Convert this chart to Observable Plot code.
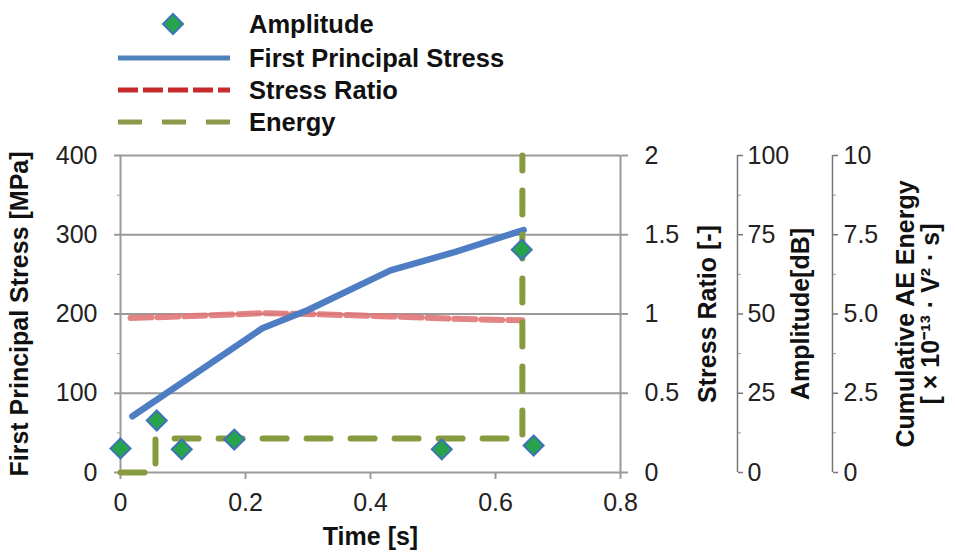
<!DOCTYPE html>
<html><head><meta charset="utf-8">
<script src="https://cdn.jsdelivr.net/npm/d3@7"></script>
<script src="https://cdn.jsdelivr.net/npm/@observablehq/plot@0.6"></script>
<style>
body{margin:0;background:#fff;font-family:"Liberation Sans",Arial,sans-serif;}
#chart{width:955px;height:552px;position:relative;overflow:hidden;}
#chart svg{display:block;}
</style></head><body><div id="chart"></div>
<script>
// ---- data ----
const stressTime  = [0.019, 0.227, 0.300, 0.432, 0.530, 0.645];
const stressValue = [71, 182, 205, 255, 277, 306];           // MPa

const ratioTime  = [0.016, 0.100, 0.227, 0.300, 0.432, 0.530, 0.643];
const ratioValue = [0.975, 0.985, 1.005, 1.0, 0.985, 0.970, 0.960];

const energyTime  = [0, 0.056, 0.643];
const energyValue = [0, 1.07, 10];                             // x10^-13 V^2 s

const ampTime  = [0, 0.058, 0.098, 0.182, 0.514, 0.642, 0.661];
const ampValue = [7.6, 16.4, 7.3, 10.4, 7.3, 70.3, 8.5];      // dB

const stressTicks = [0, 100, 200, 300, 400];
const ratioTicks  = [0, 0.5, 1, 1.5, 2];
const ratioLabels = ["0", "0.5", "1", "1.5", "2"];
const ampTicks    = [0, 25, 50, 75, 100];
const ampLabels   = ["0", "25", "50", "75", "100"];
const energyTicks = [0, 2.5, 5, 7.5, 10];
const energyLabels = ["0", "2.5", "5.0", "7.5", "10"];
const timeTicks   = [0, 0.2, 0.4, 0.6, 0.8];
const timeLabels  = ["0", "0.2", "0.4", "0.6", "0.8"];

const legendNames = ["Amplitude", "First Principal Stress", "Stress Ratio", "Energy"];

// colours
const cBlue = "#4f7dc3", cRed = "#e07676", cGreen = "#869a3e", cDiaFill = "#27a34c", cDiaStroke = "#3f72b8";
const cLegRed = "#c62a2a", cLegGreen = "#8a9a4a", cLegBlue = "#4f81bd";

// secondary scales mapped onto the primary (stress) scale
const kRatio = 400 / 2, kAmp = 400 / 100, kEnergy = 400 / 10;

const stress = stressTime.map((t, i) => ({t, v: stressValue[i]}));
const ratio  = ratioTime.map((t, i) => ({t, v: ratioValue[i]}));
const energy = energyTime.map((t, i) => ({t, v: energyValue[i]}));
const amp    = ampTime.map((t, i) => ({t, v: ampValue[i]}));

const font = "Liberation Sans, Arial, sans-serif";
const chart = document.getElementById("chart");

// ---- legend (above the plot) ----
const leg = d3.select(chart).append("svg").attr("width", 955).attr("height", 140)
  .style("font-family", font);
const rowsY = [24, 58, 90, 122];
const lx0 = 118, lx1 = 230, tx = 249;
leg.append("path").attr("d", `M173,${rowsY[0]-10}L183,${rowsY[0]}L173,${rowsY[0]+10}L163,${rowsY[0]}Z`)
  .attr("fill", cDiaFill).attr("stroke", cDiaStroke).attr("stroke-width", 2);
leg.append("line").attr("x1", lx0).attr("x2", lx1).attr("y1", rowsY[1]).attr("y2", rowsY[1])
  .attr("stroke", cLegBlue).attr("stroke-width", 5);
leg.append("line").attr("x1", lx0).attr("x2", lx1).attr("y1", rowsY[2]).attr("y2", rowsY[2])
  .attr("stroke", cLegRed).attr("stroke-width", 5).attr("stroke-dasharray", "20,5");
leg.append("line").attr("x1", lx0).attr("x2", lx1).attr("y1", rowsY[3]).attr("y2", rowsY[3])
  .attr("stroke", cLegGreen).attr("stroke-width", 5).attr("stroke-dasharray", "24,20");
legendNames.forEach((n, i) => {
  leg.append("text").attr("x", tx).attr("y", rowsY[i] + 8.5).text(n)
    .attr("font-size", 25.5).attr("font-weight", "bold").attr("fill", "#111");
});

// ---- plot ----
const lookup = (vals, labels, k) => d => labels[vals.findIndex(v => Math.abs(v * k - d) < 1e-6)];
const gray = "#9a9a9a";
const tickFont = {fontSize: 25, fill: "#222"};
const titleFont = {fontSize: 25, fontWeight: "bold", fill: "#111", labelArrow: "none", labelAnchor: "center"};

const plot = Plot.plot({
  width: 955, height: 412,
  marginTop: 15, marginBottom: 80, marginLeft: 120, marginRight: 335,
  style: {fontFamily: font, background: "transparent", overflow: "visible"},
  x: {domain: [0, 0.8]},
  y: {domain: [0, 400]},
  marks: [
    // grid and frame
    Plot.gridY(stressTicks.slice(1), {stroke: gray, strokeOpacity: 1, strokeWidth: 2}),
    Plot.ruleX([0, 0.8], {stroke: gray, strokeWidth: 2}),
    Plot.ruleY([0], {stroke: gray, strokeWidth: 2}),

    // left axis
    Plot.axisY({ticks: stressTicks, tickSize: 6, tickPadding: 17, stroke: gray, strokeWidth: 2, label: null, ...tickFont}),
    Plot.axisY({ticks: [50, 150, 250, 350], tickSize: 3, tickFormat: () => "", stroke: gray, label: null}),
    Plot.axisY({ticks: [], label: "First Principal Stress [MPa]", labelOffset: 110, ...titleFont}),

    // x axis
    Plot.axisX({ticks: timeTicks, tickSize: 7, tickPadding: 14, stroke: gray, strokeWidth: 2,
      tickFormat: lookup(timeTicks, timeLabels, 1), label: null, ...tickFont}),
    Plot.axisX({ticks: [], label: "Time [s]", labelOffset: 72, ...titleFont}),

    // stress ratio axis (right frame edge)
    Plot.axisY({anchor: "right", ticks: ratioTicks.map(v => v * kRatio), tickSize: 7, tickPadding: 17,
      stroke: gray, strokeWidth: 2, tickFormat: lookup(ratioTicks, ratioLabels, kRatio), label: null, ...tickFont}),
    Plot.axisY({anchor: "right", ticks: [], label: "Stress Ratio [-]", labelOffset: 95, ...titleFont}),

    // amplitude axis (offset)
    Plot.ruleX([0.8], {y1: 0, y2: 400, dx: 117, stroke: "#777", strokeWidth: 1.5}),
    Plot.axisY({anchor: "right", dx: 117, ticks: ampTicks.map(v => v * kAmp), tickSize: 5, tickPadding: 5,
      stroke: "#777", strokeWidth: 1.5, tickFormat: lookup(ampTicks, ampLabels, kAmp), label: null, ...tickFont}),
    Plot.axisY({anchor: "right", dx: 117, ticks: [12.5, 37.5, 62.5, 87.5].map(v => v * kAmp), tickSize: 3,
      tickFormat: () => "", stroke: "#999", label: null}),
    Plot.axisY({anchor: "right", ticks: [], label: "Amplitude[dB]", labelOffset: 188, ...titleFont}),

    // energy axis (offset)
    Plot.ruleX([0.8], {y1: 0, y2: 400, dx: 212, stroke: "#777", strokeWidth: 1.5}),
    Plot.axisY({anchor: "right", dx: 212, ticks: energyTicks.map(v => v * kEnergy), tickSize: 5, tickPadding: 6,
      stroke: "#777", strokeWidth: 1.5, tickFormat: lookup(energyTicks, energyLabels, kEnergy), label: null, ...tickFont}),
    Plot.axisY({anchor: "right", dx: 212, ticks: [1.25, 3.75, 6.25, 8.75].map(v => v * kEnergy), tickSize: 3,
      tickFormat: () => "", stroke: "#999", label: null}),
    Plot.axisY({anchor: "right", ticks: [], label: "Cumulative AE Energy\n[ × 10⁻¹³ · V² · s]", labelOffset: 318,
      lineHeight: 0.85, ...titleFont}),

    // data
    Plot.line(ratio, {x: "t", y: d => d.v * kRatio, stroke: cRed, strokeWidth: 6, strokeDasharray: "21,6", strokeOpacity: 0.9}),
    Plot.line(stress, {x: "t", y: "v", stroke: cBlue, strokeWidth: 6.5}),
    Plot.line(energy, {x: "t", y: d => d.v * kEnergy, curve: "step-after", stroke: cGreen, strokeWidth: 6, strokeDasharray: "24,20"}),
    Plot.dot(amp, {x: "t", y: d => d.v * kAmp, symbol: "diamond2", r: 9, fill: cDiaFill, stroke: cDiaStroke, strokeWidth: 2, fillOpacity: 1})
  ]
});
chart.appendChild(plot);
</script>
</body></html>
